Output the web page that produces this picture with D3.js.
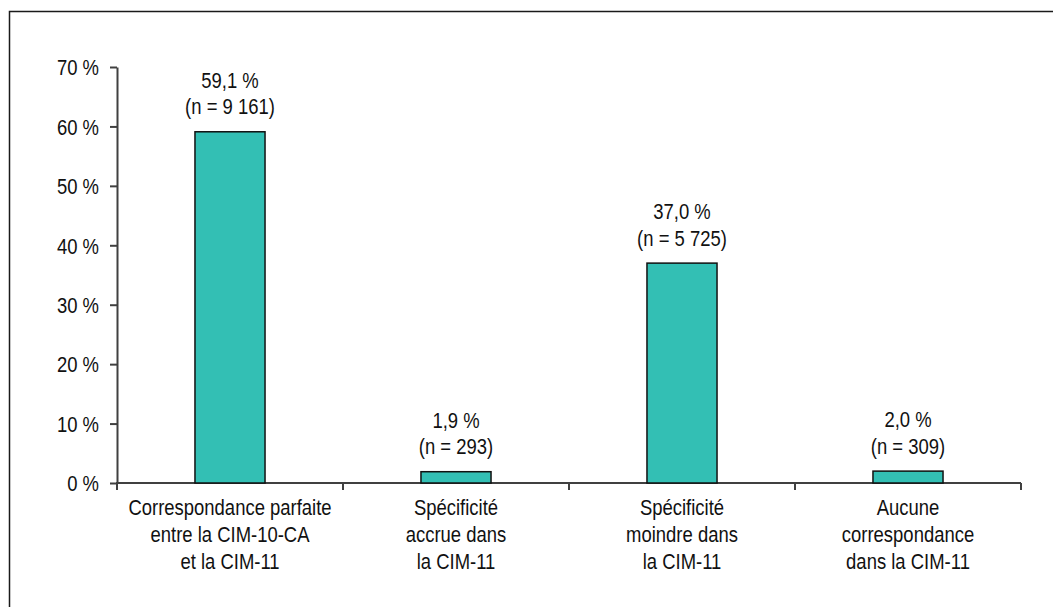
<!DOCTYPE html>
<html>
<head>
<meta charset="utf-8">
<script src="https://cdn.jsdelivr.net/npm/d3@7"></script>
<style>
  body { margin: 0; background: #fff; }
  text { font-family: "Liberation Sans", Arial, sans-serif; fill: #111; }
</style>
</head>
<body>
<div id="chart"></div>
<script>
var w = 1053;
var h = 607;

// data
var categories = ["Correspondance parfaite\nentre la CIM-10-CA\net la CIM-11",
    "Spécificité\naccrue dans\nla CIM-11",
    "Spécificité\nmoindre dans\nla CIM-11",
    "Aucune\ncorrespondance\ndans la CIM-11"];
var percents = [59.1, 1.9, 37.0, 2.0];
var counts = ["9 161", "293", "5 725", "309"];
var yTicks = [0, 10, 20, 30, 40, 50, 60, 70];

var fontSize = 22;
var squeeze = 0.84;   // text in the picture is narrower than plain Arial

var svg = d3.select("#chart")
    .append("svg")
    .attr("width", w)
    .attr("height", h);

// outer frame (only top and left edges are visible)
svg.append("rect")
    .attr("x", 9.5)
    .attr("y", 11.5)
    .attr("width", w + 20)
    .attr("height", h + 20)
    .attr("fill", "none")
    .attr("stroke", "#1a1a1a")
    .attr("stroke-width", 1.5);

var x = d3.scaleBand()
    .domain(d3.range(categories.length))
    .range([117, 1021])
    .padding(0);

var y = d3.scaleLinear()
    .domain([0, 70])
    .range([483, 67]);

var barW = x.bandwidth() * 0.31;

//y axis
var yAxis = svg.append("g")
    .attr("transform", "translate(" + x.range()[0] + ",0)")
    .call(d3.axisLeft(y).tickValues(yTicks).tickSize(7).tickSizeOuter(0)
        .tickFormat(function (d) { return d + " %"; }));

yAxis.select(".domain").attr("stroke", "#404040").attr("stroke-width", 2);
yAxis.selectAll(".tick line").attr("stroke", "#404040").attr("stroke-width", 2);
yAxis.selectAll(".tick text")
    .attr("font-family", null)
    .attr("font-size", fontSize)
    .attr("fill", "#111")
    .attr("x", -18 / squeeze)
    .attr("dy", null)
    .attr("y", 7.8)
    .attr("transform", "scale(" + squeeze + ",1)");

//x axis line + boundary ticks
var xAxis = svg.append("g");
xAxis.append("line")
    .attr("x1", x.range()[0] - 1)
    .attr("x2", x.range()[1])
    .attr("y1", y(0))
    .attr("y2", y(0))
    .attr("stroke", "#404040")
    .attr("stroke-width", 2);

var bounds = d3.range(categories.length + 1).map(function (i) {
    return x.range()[0] + i * x.step();
});
xAxis.selectAll(".xtick")
    .data(bounds)
    .enter()
    .append("line")
    .attr("class", "xtick")
    .attr("x1", function (d) { return d; })
    .attr("x2", function (d) { return d; })
    .attr("y1", y(0))
    .attr("y2", y(0) + 7)
    .attr("stroke", "#404040")
    .attr("stroke-width", 2);

//bars
svg.selectAll("rect.bar")
    .data(percents)
    .enter()
    .append("rect")
    .attr("class", "bar")
    .attr("x", function (d, i) { return x(i) + x.bandwidth() / 2 - barW / 2; })
    .attr("y", function (d) { return y(d); })
    .attr("width", barW)
    .attr("height", function (d) { return y(0) - y(d); })
    .attr("fill", "#33bfb4")
    .attr("stroke", "#111")
    .attr("stroke-width", 1.5);

//value labels
var fmt = d3.format(".1f");
var labels = svg.selectAll("g.vlabel")
    .data(percents)
    .enter()
    .append("g")
    .attr("class", "vlabel")
    .attr("transform", function (d, i) {
        return "translate(" + (x(i) + x.bandwidth() / 2) + "," + y(d) + ")";
    });

labels.append("text")
    .attr("text-anchor", "middle")
    .attr("font-size", fontSize)
    .attr("transform", "scale(" + squeeze + ",1)")
    .attr("y", -44)
    .text(function (d) { return fmt(d).replace(".", ",") + " %"; });

labels.append("text")
    .attr("text-anchor", "middle")
    .attr("font-size", fontSize)
    .attr("transform", "scale(" + squeeze + ",1)")
    .attr("y", -17.5)
    .text(function (d, i) { return "(n = " + counts[i] + ")"; });

//category labels
var cats = svg.selectAll("g.cat")
    .data(categories)
    .enter()
    .append("g")
    .attr("class", "cat")
    .attr("transform", function (d, i) {
        return "translate(" + (x(i) + x.bandwidth() / 2) + "," + (y(0) + 32) + ")";
    })
    .append("text")
    .attr("text-anchor", "middle")
    .attr("font-size", fontSize)
    .attr("transform", "scale(" + squeeze + ",1)");

cats.selectAll("tspan")
    .data(function (d) { return d.split("\n"); })
    .enter()
    .append("tspan")
    .attr("x", 0)
    .attr("y", function (d, i) { return i * 27; })
    .text(function (d) { return d; });
</script>
</body>
</html>
